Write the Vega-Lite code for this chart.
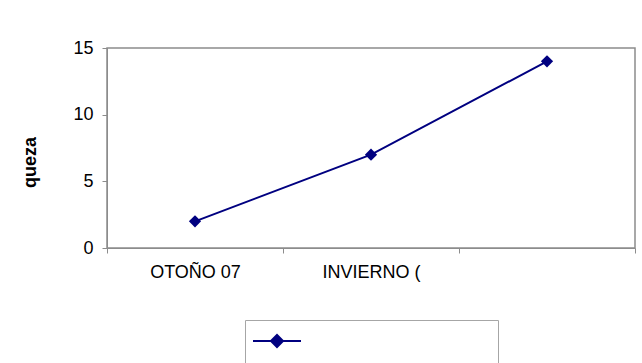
{
  "$schema": "https://vega.github.io/schema/vega-lite/v6.json",
  "width": 528,
  "height": 200,
  "autosize": "none",
  "padding": {"left": 107, "top": 48, "right": 7, "bottom": 115},
  "background": "white",
  "config": {
    "font": "Liberation Sans",
    "view": {"stroke": "#8c8c8c", "strokeWidth": 1.5},
    "axis": {
      "grid": false,
      "domainColor": "#8c8c8c",
      "tickColor": "#8c8c8c",
      "labelColor": "black",
      "labelFont": "Liberation Sans",
      "labelFontSize": 18,
      "tickSize": 5
    }
  },
  "data": {
    "values": [
      {"estacion": "OTOÑO 07", "valor": 2, "serie": " "},
      {"estacion": "INVIERNO (", "valor": 7, "serie": " "},
      {"estacion": " ", "valor": 14, "serie": " "}
    ]
  },
  "encoding": {
    "x": {
      "field": "estacion",
      "type": "nominal",
      "sort": null,
      "scale": {"type": "band", "paddingInner": 0, "paddingOuter": 0},
      "axis": {"title": null, "labelAngle": 0, "tickBand": "extent", "labelPadding": 10}
    },
    "y": {
      "field": "valor",
      "type": "quantitative",
      "scale": {"domain": [0, 15]},
      "axis": {
        "values": [0, 5, 10, 15],
        "title": "queza",
        "titleFont": "Liberation Sans",
        "titleFontSize": 18,
        "titleFontWeight": "bold",
        "titleColor": "black",
        "titleAngle": -90,
        "titleX": -72,
        "titleY": 114,
        "titleAlign": "center",
        "titleBaseline": "alphabetic",
        "labelPadding": 9
      }
    },
    "color": {
      "field": "serie",
      "type": "nominal",
      "scale": {"range": ["#000080"]},
      "legend": {
        "title": null,
        "orient": "none",
        "legendX": 138,
        "legendY": 272,
        "padding": 14,
        "strokeColor": "#a6a6a6",
        "fillColor": "white",
        "symbolType": "M-4,0L4,0M-1,0L0,-1L1,0L0,1Z",
        "symbolSize": 144,
        "symbolStrokeWidth": 2,
        "symbolStrokeColor": "#000080",
        "symbolFillColor": "#000080",
        "symbolOffset": 11,
        "labelOffset": 200,
        "labelExpr": "''"
      }
    }
  },
  "layer": [
    {"mark": {"type": "line", "strokeWidth": 2}},
    {"mark": {"type": "point", "shape": "diamond", "filled": true, "size": 150, "opacity": 1}}
  ]
}
